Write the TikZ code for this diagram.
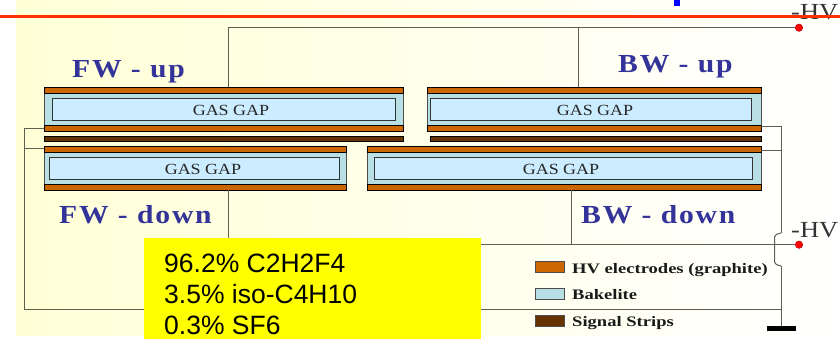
\documentclass[tikz,border=0pt]{standalone}
\usepackage{fontspec}
\setmainfont{Liberation Serif}
\newfontfamily\armfont{Liberation Sans}
\newfontfamily\titlefont[LetterSpace=7,FakeStretch=1.14]{Liberation Serif}
\newfontfamily\gasfont[FakeStretch=1.16]{Liberation Serif}
\newfontfamily\hvfont[FakeStretch=1.15]{Liberation Serif}
\newfontfamily\keyfont[FakeStretch=1.28]{Liberation Serif}
\definecolor{hvorange}{HTML}{CC6600}
\definecolor{bakelite}{HTML}{B8DFE4}
\definecolor{gasblue}{HTML}{CCECFF}
\definecolor{stripbrown}{HTML}{663300}
\definecolor{titleblue}{HTML}{333399}
\definecolor{wiregray}{HTML}{5F5F50}
\definecolor{paleyellow}{HTML}{FFFFD6}
\definecolor{mixyellow}{HTML}{FFFF00}
\definecolor{ruleblue}{HTML}{0000FF}
\definecolor{rulered}{HTML}{FF3000}
\tikzset{
  plate/.style={draw=black, line width=0.8pt, inner sep=0pt, minimum height=6pt},
  bakeplate/.style={draw=black!70, fill=bakelite, line width=0.8pt, inner sep=0pt, minimum height=44pt},
  gasbox/.style={draw=black!80, fill=gasblue, line width=0.8pt, inner sep=0pt, minimum height=22pt},
  gaslabel/.style={font=\gasfont\fontsize{15.5}{16}\selectfont, text=black!85, inner sep=0pt},
  title/.style={anchor=base west, inner sep=0pt, text=titleblue, font=\titlefont\bfseries\fontsize{26}{28}\selectfont},
  hvlabel/.style={anchor=base west, inner sep=0pt, text=black!80, font=\hvfont\fontsize{23}{24}\selectfont},
  hvdot/.style={circle, fill=red, draw=red!70!black, line width=0.4pt, inner sep=0pt, minimum size=7.5pt},
  wire/.style={draw=wiregray, line width=1pt},
  swatch/.style={draw=black!70, line width=0.8pt, inner sep=0pt, minimum width=29pt, minimum height=11pt},
  legendlabel/.style={anchor=base west, inner sep=0pt, font=\keyfont\bfseries\fontsize{14.5}{16}\selectfont, text=black!90},
}
\begin{document}
\begin{tikzpicture}[x=1pt, y=-1pt]
  \useasboundingbox (0,0) rectangle (840,339);
  \fill[white] (0,0) rectangle (840,339);
  \fill[left color=paleyellow, right color=white] (16,0) rectangle (840,335);

  % high voltage terminals
  \node[hvlabel] (hvuplabel) at (791,20) {-HV};
  \node[hvlabel] (hvdownlabel) at (791,237) {-HV};
  \node[hvdot] (hvup) at (799,27.7) {};
  \node[hvdot] (hvdown) at (799,244.7) {};

  % chambers: name/left/right/top/gap left/gap right/text x
  \foreach \name/\xa/\xb/\ya/\ga/\gb/\tx in {%
      fwup/44/403/87/52/395/231,
      bwup/427/761/87/430.5/751/595,
      fwdown/44/346/146/49/339/203,
      bwdown/367/761/146/374/752/561} {
    \node[bakeplate, minimum width={\xb-\xa}] (\name) at ({(\xa+\xb)/2},\ya+22) {};
    \node[gasbox, minimum width={\gb-\ga}] (\name gas) at ({(\ga+\gb)/2},\ya+22) {};
    \node[gaslabel] (\name text) at (\tx,\ya+23.5) {GAS GAP};
    \node[plate, fill=hvorange, minimum width={\xb-\xa}] (\name top) at ({(\xa+\xb)/2},\ya+3) {};
    \node[plate, fill=hvorange, minimum width={\xb-\xa}] (\name bot) at ({(\xa+\xb)/2},\ya+41) {};
  }

  % signal strips
  \node[plate, fill=stripbrown, minimum height=5pt, minimum width=359pt] (stripfw) at (223.5,138.5) {};
  \node[plate, fill=stripbrown, minimum height=5pt, minimum width=331pt] (stripbw) at (595.5,138.5) {};

  % taps on the plates
  \coordinate (tapfwup) at (228,87);
  \coordinate (tapbwup) at (578,87);
  \coordinate (tapfwdown) at (228,190);
  \coordinate (tapbwdown) at (571,190);
  \coordinate (tapleftup) at (44,129);
  \coordinate (tapleftdown) at (44,149);
  \coordinate (taprightup) at (761,126.5);
  \coordinate (taprightdown) at (761,150.5);
  \coordinate (leftrail) at (24,309.5);
  \coordinate (hopup) at (781,233);
  \coordinate (hopdown) at (781,266);

  % wiring
  \draw[wire] (tapfwup) |- (hvup);
  \draw[wire] (tapbwup) |- (hvup);
  \draw[wire] (tapfwdown) |- (hvdown);
  \draw[wire] (tapbwdown) |- (hvdown);
  \draw[wire] (tapleftup) -| (leftrail) -- (781,309.5);
  \draw[wire] (tapleftdown) -- (24,149);
  \draw[wire] (taprightup) -| (hopup);
  \draw[wire] (taprightdown) -- (781,150.5);
  \draw[wire, rounded corners=2pt] (hopup) -- (774.5,235) -- (774.5,264) -- (hopdown);
  \draw[wire] (hopdown) -- (781,326);
  \fill[black] (767,326) rectangle (796,331);

  % titles
  \node[title] (fwuplabel) at (72,78) {FW - up};
  \node[title] (bwuplabel) at (618,73) {BW - up};
  \node[title] (fwdownlabel) at (59,223) {FW - down};
  \node[title] (bwdownlabel) at (581,223) {BW - down};

  % gas mixture
  \fill[mixyellow] (144,238) rectangle (481,339);
  \node[anchor=north west, inner sep=0pt, align=left, font=\armfont\fontsize{26.5}{31}\selectfont]
    (mixture) at (164,253.5) {96.2\% C2H2F4\\ 3.5\% iso-C4H10\\ 0.3\% SF6};

  % legend
  \node[swatch, fill=hvorange, anchor=west] (keyhv) at (535,266.5) {};
  \node[swatch, fill=bakelite, anchor=west] (keybak) at (535,294) {};
  \node[swatch, fill=stripbrown, anchor=west] (keystrip) at (535,320.5) {};
  \node[legendlabel] (keyhvtext) at (572,273) {HV electrodes (graphite)};
  \node[legendlabel] (keybaktext) at (572,299) {Bakelite};
  \node[legendlabel] (keystriptext) at (572,326) {Signal Strips};

  % top rule
  \draw[draw=rulered, line width=3pt] (0,17) -- (840,17);
  \fill[ruleblue] (674,0) rectangle (680,6);
\end{tikzpicture}
\end{document}
